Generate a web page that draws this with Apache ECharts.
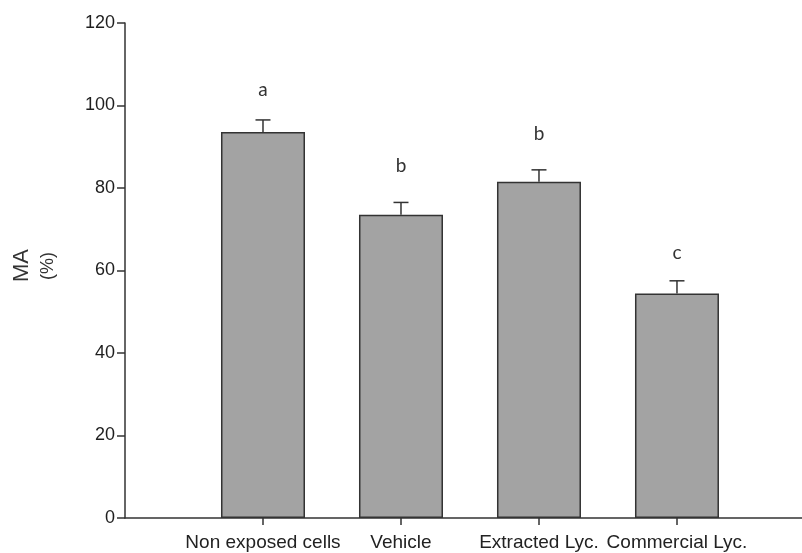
<!DOCTYPE html>
<html>
<head>
<meta charset="utf-8">
<script src="https://cdn.jsdelivr.net/npm/echarts@6/dist/echarts.min.js"></script>
<style>
html,body{margin:0;padding:0;background:#fff;}
#chart{width:802px;height:553px;}
</style>
</head>
<body>
<div id="chart"></div>
<script>
const categories = ['Non exposed cells', 'Vehicle', 'Extracted Lyc.', 'Commercial Lyc.'];
const values = [93.6, 73.5, 81.5, 54.4];
const errors = [2.9, 3.0, 2.9, 3.1];
const sigLetters = ['a', 'b', 'b', 'c'];
const letterPos = [101.4, 83.1, 90.9, 61.9];
const yTicks = [0, 20, 40, 60, 80, 100, 120];

const positions = categories.map((c, i) => i + 1);
const barData = values.map((v, i) => [positions[i], v]);
const errData = values.map((v, i) => [positions[i], v, v + errors[i]]);
const letterData = letterPos.map((v, i) => [positions[i], v, sigLetters[i]]);

const chart = echarts.init(document.getElementById('chart'), null, {renderer: 'canvas'});
const option = {
  backgroundColor: '#ffffff',
  animation: false,
  grid: {left: 125, right: 0, top: 23, bottom: 35, containLabel: false},
  xAxis: {
    type: 'value',
    min: 0,
    max: 4.906,
    interval: 1,
    splitLine: {show: false},
    axisLine: {show: true, onZero: false, lineStyle: {color: '#333', width: 1.5}},
    axisTick: {show: true, inside: false, length: 7, customValues: positions, lineStyle: {color: '#333', width: 1.5}},
    axisLabel: {
      show: true,
      customValues: positions,
      margin: 15,
      fontFamily: '"Liberation Sans", Arial, sans-serif',
      fontSize: 19,
      color: '#222',
      formatter: function (v) { const i = Math.round(v) - 1; return categories[i] || ''; }
    }
  },
  yAxis: {
    type: 'value',
    min: yTicks[0],
    max: yTicks[yTicks.length - 1],
    interval: 20,
    splitLine: {show: false},
    axisLine: {show: true, lineStyle: {color: '#333', width: 1.5}},
    axisTick: {show: true, inside: false, length: 8, lineStyle: {color: '#333', width: 1.5}},
    axisLabel: {
      margin: 10,
      fontFamily: '"Liberation Sans", Arial, sans-serif',
      fontSize: 18,
      color: '#1e1e1e'
    }
  },
  graphic: [
    {type: 'text', left: 11, top: 249, rotation: Math.PI / 2,
     style: {text: 'MA', font: '22px "Liberation Sans", Arial, sans-serif', fill: '#333'}},
    {type: 'text', left: 39, top: 252, rotation: Math.PI / 2,
     style: {text: '(%)', font: '18px "Liberation Sans", Arial, sans-serif', fill: '#333'}}
  ],
  series: [
    {
      type: 'bar',
      data: barData,
      barWidth: 84,
      itemStyle: {color: '#a3a3a3', borderColor: '#333', borderWidth: 1.5},
      z: 2
    },
    {
      type: 'custom',
      data: errData,
      z: 3,
      renderItem: function (params, api) {
        const x = api.value(0);
        const lo = api.coord([x, api.value(1)]);
        const hi = api.coord([x, api.value(2)]);
        const half = 7.5;
        return {
          type: 'group',
          children: [
            {type: 'line', shape: {x1: lo[0], y1: lo[1], x2: hi[0], y2: hi[1]}, style: {stroke: '#333', lineWidth: 1.5}},
            {type: 'line', shape: {x1: hi[0] - half, y1: hi[1], x2: hi[0] + half, y2: hi[1]}, style: {stroke: '#333', lineWidth: 1.5}}
          ]
        };
      }
    },
    {
      type: 'custom',
      data: letterData,
      z: 4,
      renderItem: function (params, api) {
        const p = api.coord([api.value(0), api.value(1)]);
        return {
          type: 'text',
          x: p[0], y: p[1],
          style: {text: sigLetters[params.dataIndex], font: '19px Lato, "Open Sans", sans-serif', fill: '#333', align: 'center', verticalAlign: 'bottom'}
        };
      }
    }
  ]
};
chart.setOption(option);
</script>
</body>
</html>
